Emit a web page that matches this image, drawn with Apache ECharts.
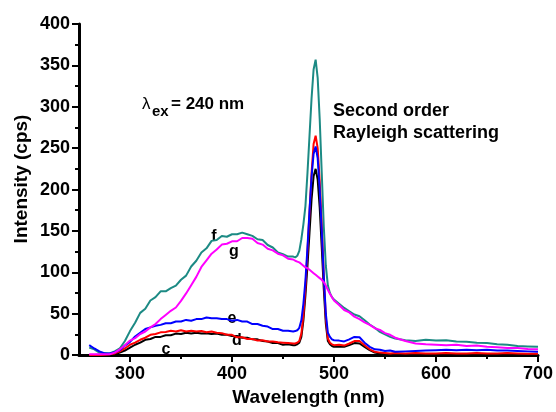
<!DOCTYPE html>
<html>
<head>
<meta charset="utf-8">
<script src="https://cdn.jsdelivr.net/npm/echarts@6/dist/echarts.min.js"></script>
<style>
  html, body { margin: 0; padding: 0; background: #fff; }
  #chart { width: 556px; height: 412px; }
</style>
</head>
<body>
<div id="chart"></div>
<script>
// wavelength grid (nm), finer around the Rayleigh peak
const wavelengths = [
  260, 265, 270, 275, 280, 285, 290, 295, 300, 305, 310, 315, 320, 325, 330, 335, 340, 345, 350, 355,
  360, 365, 370, 375, 380, 385, 390, 395, 400, 405, 410, 415, 420, 425, 430, 435, 440, 445, 450, 455, 460,
  462, 464, 466, 468, 470, 472, 474, 476, 478, 480, 482, 484, 486, 488, 490, 492, 494, 496, 498, 500,
  505, 510, 515, 520, 525, 530, 535, 540, 545, 550, 555, 560,
  570, 580, 590, 600, 610, 620, 630, 640, 650, 660, 670, 680, 690, 700
];

const curveC = [
  0, 0, 0.5, 0, 0.5, 1, 3, 5.5, 9, 12.5, 15, 18.5, 19.5, 22, 22, 24, 24, 26, 25.5, 27,
  26, 27, 26, 26.5, 25.5, 26, 24.5, 24.5, 23, 23, 21, 21, 19, 19, 17, 16.5, 14.5, 14.5, 12.5, 13, 12,
  12, 13, 15, 22, 42, 72, 108, 148, 188, 216, 225, 212, 178, 130, 80, 38, 17, 13, 11, 10,
  10.5, 10, 12, 14.5, 14, 10, 6, 3, 2, 1.5, 1, 1.5,
  1, 1.5, 1, 1, 1.5, 1, 1, 1.5, 1, 1, 1.5, 1, 1, 1
];

const curveD = [
  0, 0, 0, 0.5, 1, 2, 4.5, 8, 12.5, 15, 18.5, 21, 24.5, 25.5, 27.5, 28, 29.5, 28.5, 30, 28.5,
  29.5, 28.5, 29, 27.5, 28.5, 27, 26.5, 24.5, 24.5, 21.5, 21.5, 19.5, 19.5, 17.5, 18, 16.5, 16.5, 15.5, 15, 14.5, 14,
  14, 15, 17, 26, 48, 82, 125, 172, 220, 255, 265, 250, 210, 155, 95, 45, 20, 15, 13, 12,
  12.5, 11.5, 14, 17, 17, 12, 7, 4, 3, 2.5, 2, 2.5,
  2, 2.5, 2, 2, 2.5, 2, 2, 2.5, 2, 2, 2.5, 2, 1.5, 1.5
];

const curveE = [
  12, 8, 4.5, 2, 2, 3.5, 6, 11.5, 16, 22.5, 27, 31.5, 33.5, 35.5, 36.5, 38.5, 38.5, 40.5, 40.5, 42.5,
  41.5, 43.5, 43.5, 45.5, 44.5, 44.5, 43.5, 43.5, 41.5, 42.5, 40.5, 40.5, 37.5, 37.5, 35.5, 34.5, 31.5, 31.5, 29.5, 29.5, 28.5,
  29, 30, 33, 42, 62, 90, 130, 175, 215, 243, 252, 238, 200, 150, 95, 50, 27, 22, 19, 18,
  17.5, 16.5, 19, 22, 21.5, 15, 10, 7, 6.5, 5, 5.5, 4,
  4.5, 5, 5.5, 6, 6.5, 6, 6.5, 6, 6.5, 5.5, 5.5, 5, 4.5, 4
];

const curveF = [
  9, 7, 3, 2.5, 2, 4.5, 8, 17, 29, 39, 51, 56, 66, 70, 77, 77, 81, 84, 91, 96,
  107, 114, 124, 129, 138, 139, 144, 143, 146, 146, 148, 146, 144, 140, 139, 133, 130, 124, 122, 119, 119,
  118, 120, 126, 140, 158, 180, 220, 265, 310, 345, 357, 335, 285, 220, 155, 108, 84, 75, 70, 67,
  62, 57, 53, 49, 47, 42, 37, 33, 28, 25, 22, 20,
  18, 17, 18.5, 17.5, 18, 16.5, 16, 15, 14.5, 13, 12.5, 11, 10.5, 10
];

const curveG = [
  1, 1, 1, 1, 1, 3, 7, 12, 17.5, 20.5, 25.5, 28.5, 33.5, 37.5, 43.5, 48.5, 53.5, 57.5, 65.5, 74.5,
  84.5, 94.5, 106.5, 114.5, 122.5, 127.5, 133.5, 134.5, 137.5, 137.5, 141.5, 141.5, 140.5, 135.5, 133.5, 128.5, 126.5, 122.5, 120.5, 116.5, 115.5,
  114, 113, 112, 110, 108, 106, 105, 103, 101, 99, 97, 95, 93, 91, 88, 84, 79, 74, 70, 66,
  60.5, 54.5, 51.5, 46.5, 43.5, 39.5, 36.5, 32.5, 30.5, 26.5, 24.5, 21,
  17, 14, 13, 12.5, 12, 12.5, 11, 11.5, 10, 9.5, 8.5, 8.5, 7.5, 7
];

const xMajorTicks = [300, 400, 500, 600, 700];
const xMinorTicks = [350, 450, 550, 650];

const FONT = "'Liberation Sans', Arial, sans-serif";

const pairs = (ys) => wavelengths.map((w, i) => [w, ys[i]]);

const makeSeries = (name, ys, color) => ({
  name: name,
  type: "line",
  data: pairs(ys),
  showSymbol: false,
  silent: true,
  lineStyle: { color: color, width: 2 },
  itemStyle: { color: color },
});

const chart = echarts.init(document.getElementById("chart"));

chart.setOption({
  animation: false,
  backgroundColor: "#ffffff",
  grid: { left: 79, right: 14, top: 24, bottom: 50 },
  xAxis: [
    {
      type: "value",
      min: 250,
      max: 700,
      splitLine: { show: false },
      axisLine: { lineStyle: { color: "#000", width: 3 } },
      axisTick: {
        customValues: xMajorTicks,
        length: 7,
        lineStyle: { color: "#000", width: 2 },
      },
      axisLabel: {
        customValues: xMajorTicks,
        margin: 10,
        color: "#000",
        fontSize: 18,
        fontWeight: "bold",
        fontFamily: FONT,
      },
      name: "Wavelength (nm)",
      nameLocation: "middle",
      nameGap: 30,
      nameTextStyle: {
        color: "#000",
        fontSize: 19,
        fontWeight: "bold",
        fontFamily: FONT,
      },
    },
    {
      type: "value",
      min: 250,
      max: 700,
      position: "bottom",
      splitLine: { show: false },
      axisLine: { show: false },
      axisLabel: { show: false },
      axisTick: {
        customValues: xMinorTicks,
        length: 4,
        lineStyle: { color: "#000", width: 2 },
      },
    },
  ],
  yAxis: {
    type: "value",
    min: 0,
    max: 400,
    interval: 50,
    splitLine: { show: false },
    axisLine: { show: true, lineStyle: { color: "#000", width: 3 } },
    axisTick: { show: true, length: 7, lineStyle: { color: "#000", width: 2 } },
    minorTick: { show: true, splitNumber: 2, length: 4, lineStyle: { color: "#000", width: 2 } },
    minorSplitLine: { show: false },
    axisLabel: {
      margin: 9,
      color: "#000",
      fontSize: 18,
      fontWeight: "bold",
      fontFamily: FONT,
    },
  },
  series: [
    makeSeries("f", curveF, "#1c8a84"),
    makeSeries("c", curveC, "#000000"),
    makeSeries("d", curveD, "#ff0000"),
    makeSeries("e", curveE, "#0000ff"),
    makeSeries("g", curveG, "#ff00ff"),
  ],
  graphic: [
    {
      type: "text",
      x: 22,
      y: 179,
      rotation: Math.PI / 2,
      style: {
        text: "Intensity (cps)",
        fill: "#000",
        font: "bold 19px " + FONT,
        textAlign: "center",
        textVerticalAlign: "middle",
      },
    },
    {
      type: "text",
      x: 142,
      y: 104,
      style: { text: "λ", fill: "#000", font: "17px " + FONT, textVerticalAlign: "middle" },
    },
    {
      type: "text",
      x: 152,
      y: 112,
      style: { text: "ex", fill: "#000", font: "bold 15px " + FONT, textVerticalAlign: "middle" },
    },
    {
      type: "text",
      x: 171,
      y: 104,
      style: { text: "= 240 nm", fill: "#000", font: "bold 17px " + FONT, textVerticalAlign: "middle" },
    },
    {
      type: "text",
      x: 333,
      y: 111,
      style: { text: "Second order", fill: "#000", font: "bold 18px " + FONT, textVerticalAlign: "middle" },
    },
    {
      type: "text",
      x: 333,
      y: 133,
      style: { text: "Rayleigh scattering", fill: "#000", font: "bold 18px " + FONT, textVerticalAlign: "middle" },
    },
    { type: "text", x: 214, y: 237, style: { text: "f", fill: "#000", font: "bold 16px " + FONT, textAlign: "center", textVerticalAlign: "middle" } },
    { type: "text", x: 234, y: 252, style: { text: "g", fill: "#000", font: "bold 16px " + FONT, textAlign: "center", textVerticalAlign: "middle" } },
    { type: "text", x: 232, y: 319, style: { text: "e", fill: "#000", font: "bold 16px " + FONT, textAlign: "center", textVerticalAlign: "middle" } },
    { type: "text", x: 237, y: 341, style: { text: "d", fill: "#000", font: "bold 16px " + FONT, textAlign: "center", textVerticalAlign: "middle" } },
    { type: "text", x: 166, y: 350, style: { text: "c", fill: "#000", font: "bold 16px " + FONT, textAlign: "center", textVerticalAlign: "middle" } },
  ],
});
</script>
</body>
</html>
